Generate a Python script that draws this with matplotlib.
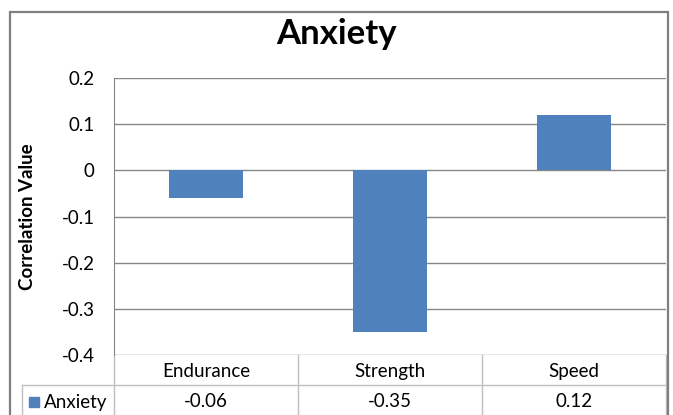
import matplotlib.pyplot as plt
from matplotlib.transforms import blended_transform_factory
from matplotlib.patches import Rectangle

categories = ["Endurance", "Strength", "Speed"]
values = [-0.06, -0.35, 0.12]
series_name = "Anxiety"
yticks = [0.2, 0.1, 0, -0.1, -0.2, -0.3, -0.4]
ytick_labels = ["0.2", "0.1", "0", "-0.1", "-0.2", "-0.3", "-0.4"]

W, H = 673, 415
bar_color = "#4F81BD"
grid_color = "#868686"
table_color = "#BFBFBF"
plt.rcParams['font.family'] = ['Lato', 'DejaVu Sans']

fig = plt.figure(figsize=(W / 100, H / 100), dpi=100)

# outer chart border
fig.patches.append(Rectangle((10 / W, -0.05), 658 / W, 1.05 - 12 / H,
                             transform=fig.transFigure, fill=False,
                             edgecolor="#7F7F7F", linewidth=1.6))

ax = fig.add_axes([114 / W, 1 - 355 / H, 552 / W, 277 / H])
x = list(range(len(categories)))
ax.bar(x, values, width=0.4, color=bar_color, zorder=3)
ax.set_xlim(-0.5, len(categories) - 0.5)
ax.set_ylim(-0.4, 0.2)
ax.set_yticks(yticks)
ax.set_yticklabels(ytick_labels, fontsize=13.5)
ax.tick_params(axis='y', length=0, pad=14)
ax.set_xticks([])
ax.yaxis.grid(True, color=grid_color, linewidth=1)
ax.set_axisbelow(True)
for s in ["top", "right", "bottom"]:
    ax.spines[s].set_visible(False)
ax.spines["left"].set_color(grid_color)

ax.set_ylabel("Correlation Value", fontsize=13.5, fontweight='bold')
ax.yaxis.set_label_coords(-78 / 552, 0.5)
fig.text(0.5, 1 - 34 / H, series_name, fontsize=25, fontweight='bold',
         ha='center', va='center')

# data table under the plot
tr = blended_transform_factory(ax.transData, ax.transAxes)
ah = 277.0
row1 = -(371 - 355) / ah
row2 = -(401 - 355) / ah
for i, (c, v) in enumerate(zip(categories, values)):
    ax.text(i, row1, c, transform=tr, ha='center', va='center', fontsize=13.5)
    ax.text(i, row2, f"{v:g}", transform=tr, ha='center', va='center', fontsize=13.5)

bottom = -(H + 5 - 355) / ah
for xb in [-0.5 + k for k in range(1, len(categories))] + [len(categories) - 0.5]:
    ax.plot([xb, xb], [0, bottom], transform=tr, color=table_color,
            linewidth=1, clip_on=False)
ax.plot([-0.5, -0.5], [0, bottom], transform=tr, color=table_color,
        linewidth=1, clip_on=False)
ax.plot([-0.5 - 92 / 184, len(categories) - 0.5], [-(385 - 355) / ah] * 2,
        transform=tr, color=table_color, linewidth=1, clip_on=False)
ax.plot([-0.5 - 92 / 184] * 2, [-(385 - 355) / ah, bottom], transform=tr,
        color=table_color, linewidth=1, clip_on=False)

# legend key in the table
fig.patches.append(Rectangle((29 / W, 1 - 407 / H), 10 / W, 10 / H,
                             transform=fig.transFigure, color=bar_color))
fig.text(44 / W, 1 - 402 / H, series_name, fontsize=13.5, ha='left', va='center')

fig.savefig("out.png", dpi=100)
